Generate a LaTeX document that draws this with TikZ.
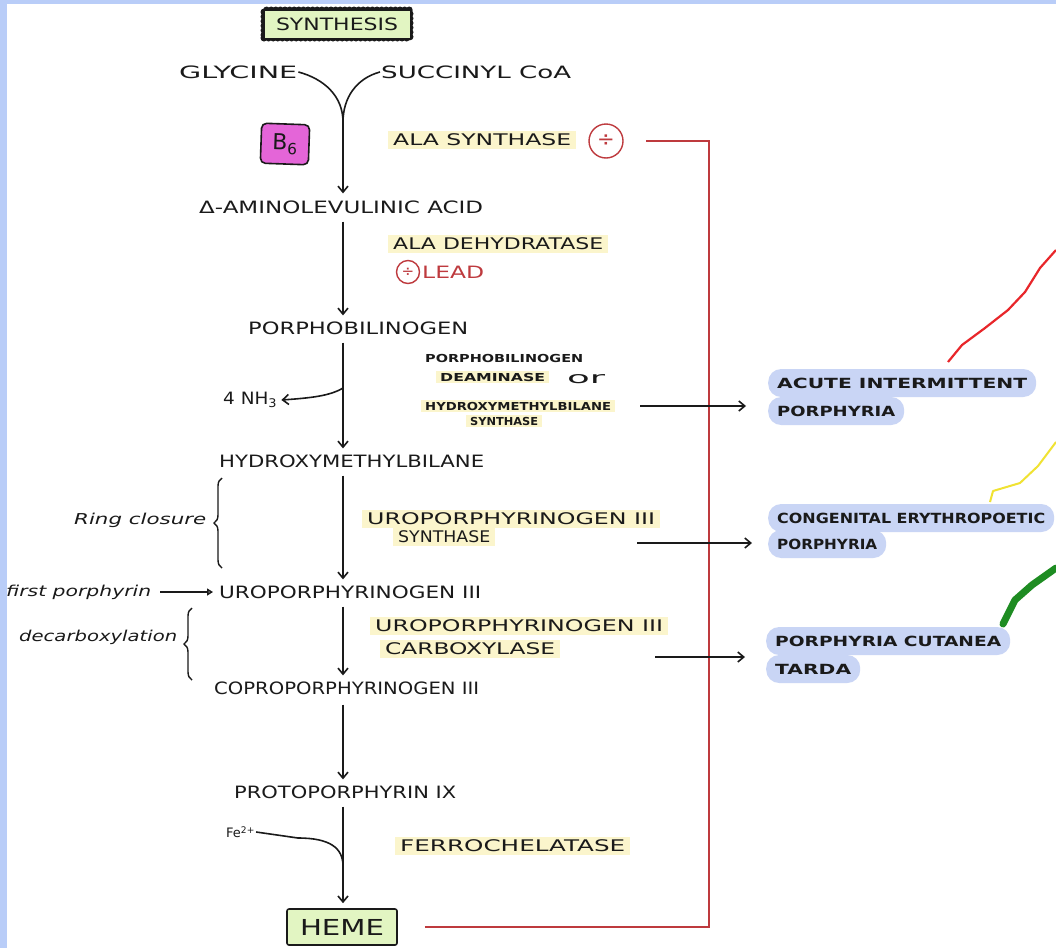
\documentclass[tikz,border=0pt]{standalone}
\usepackage{fontspec}
\usepackage{graphicx}
\setmainfont{DejaVu Sans}
\usetikzlibrary{arrows.meta,decorations.pathreplacing,calc}
\definecolor{band}{HTML}{B9CDF8}
\definecolor{synthg}{HTML}{E2F5C2}
\definecolor{hemeg}{HTML}{E2F5C2}
\definecolor{magb}{HTML}{E465D8}
\definecolor{hl}{HTML}{FBF5CC}
\definecolor{pill}{HTML}{C9D5F5}
\definecolor{redc}{HTML}{BE3A3E}
\definecolor{redw}{HTML}{E8262A}
\definecolor{yelw}{HTML}{F0E232}
\definecolor{grnw}{HTML}{1E8C22}
\definecolor{ink}{HTML}{1A1A1A}
\newcommand\hw[2]{\resizebox{#1pt}{\height}{#2}}
\tikzset{
  main/.style={anchor=west, inner sep=1pt, text=ink, font=\fontsize{17}{17}\selectfont},
  enz/.style={anchor=west, inner xsep=5pt, inner ysep=3pt, fill=hl, text=ink, font=\fontsize{16}{16}\selectfont},
  enzs/.style={anchor=west, inner xsep=4pt, inner ysep=2pt, text=ink, font=\fontsize{11}{11}\selectfont\bfseries},
  note/.style={anchor=west, inner sep=1pt, text=ink, font=\fontsize{15}{15}\selectfont\itshape},
  dis/.style={anchor=west, fill=pill, rounded corners=13pt, inner xsep=9pt, minimum height=28pt, text=ink, font=\fontsize{14}{14}\selectfont\bfseries},
  line/.style={line width=1.6pt, draw=ink},
  arr/.style={line, -{Straight Barb[length=6pt,width=10pt]}},
  redl/.style={line width=2.4pt, draw=redc},
  inh/.style={circle, draw=redc, line width=1.4pt, text=redc, inner sep=0pt},
  brace/.style={decorate, decoration={brace, amplitude=8pt}, line width=1.4pt, draw=ink},
  synthbox/.style={fill=synthg, draw=ink, line width=1pt, minimum width=146pt, minimum height=28pt,
    preaction={draw=ink, line width=7pt, dash pattern=on 0pt off 4.6pt, line cap=round},
    text=ink, font=\fontsize{17}{17}\selectfont},
  hemebox/.style={fill=hemeg, draw=ink, line width=1.6pt, rounded corners=2pt, minimum width=110pt, minimum height=36pt, text=ink, font=\fontsize{22}{22}\selectfont},
  b6box/.style={fill=magb, draw=ink, line width=1.6pt, rounded corners=5pt, minimum width=48pt, minimum height=40pt, text=ink, font=\fontsize{22}{22}\selectfont},
}
\begin{document}
\begin{tikzpicture}[x=1pt,y=-1pt]
\useasboundingbox (0,0) rectangle (1056,948);
\fill[band] (0,0) rectangle (1056,948);
\fill[white] (7,4) rectangle (1056,948);
\coordinate (sp) at (343,0);

% header
\node[synthbox] (syn) at (337,24) {\hw{122}{SYNTHESIS}};
\node[main] (gly) at (178,72) {\hw{118}{GLYCINE}};
\node[main] (suc) at (380,72) {\hw{190}{SUCCINYL CoA}};
\coordinate (merge) at (343,122);
\draw[line] (gly.east) to[out=-15,in=90] (merge);
\draw[line] (suc.west) to[out=195,in=90] (merge);
\node[b6box, rotate=-2] (b6) at (285,144) {B\textsubscript{6}};

% main chain
\node[main] (ala) at (198,207) {\hw{284}{Δ-AMINOLEVULINIC ACID}};
\node[main] (pbg) at (247,328) {\hw{220}{PORPHOBILINOGEN}};
\node[main] (hmb) at (218,461) {\hw{265}{HYDROXYMETHYLBILANE}};
\node[main] (uro) at (218,592) {\hw{262}{UROPORPHYRINOGEN III}};
\node[main] (copro) at (213,688) {\hw{265}{COPROPORPHYRINOGEN III}};
\node[main] (proto) at (233,792) {\hw{222}{PROTOPORPHYRIN IX}};
\node[hemebox] (heme) at (342,927) {\hw{84}{HEME}};

\draw[arr, shorten >=6pt] (merge) -- (ala.north -| sp);
\draw[arr, shorten <=7pt, shorten >=5pt] (ala.south -| sp) -- (pbg.north -| sp);
\draw[arr, shorten <=7pt, shorten >=5pt] (pbg.south -| sp) -- (hmb.north -| sp);
\draw[arr, shorten <=7pt, shorten >=5pt] (hmb.south -| sp) -- (uro.north -| sp);
\draw[arr, shorten <=7pt, shorten >=5pt] (uro.south -| sp) -- (copro.north -| sp);
\draw[arr, shorten <=9pt, shorten >=5pt] (copro.south -| sp) -- (proto.north -| sp);
\draw[arr, shorten <=7pt, shorten >=5pt] (proto.south -| sp) -- (heme.north -| sp);

% side products
\node[main] (nh3) at (222,400) {\hw{54}{4 NH\textsubscript{3}}};
\coordinate (nhj) at (343,388);
\draw[arr] (nhj) .. controls (330,396) and (310,398) .. ([xshift=3pt]nh3.east);
\node[main] (fe) at (225,832) {\fontsize{13}{13}\selectfont Fe\textsuperscript{2+}};
\coordinate (fej) at (343,866);
\draw[line] (fe.east) -- (298,838) .. controls (330,838) and (343,848) .. (fej);

% notes
\node[note] (ring) at (73,520) {\hw{132}{Ring closure}};
\draw[brace] (222,568) -- (222,478);
\node[note] (fp) at (5,592) {\hw{145}{first porphyrin}};
\draw[line, -{Triangle[open,length=6pt,width=7pt]}, shorten <=8pt, shorten >=5pt] (fp.east) -- (uro.west);
\node[note] (dec) at (18,637) {\hw{158}{decarboxylation}};
\draw[brace] (192,680) -- (192,608);

% enzymes
\node[enz] (e1) at (388,140) {\hw{178}{ALA SYNTHASE}};
\node[inh, minimum size=34pt, font=\fontsize{21}{21}\selectfont] (inh1) at (606,141) {÷};
\node[enz] (e2) at (388,244) {\hw{210}{ALA DEHYDRATASE}};
\node[inh, minimum size=23pt, font=\fontsize{15}{15}\selectfont] (inh2) at (408,272) {÷};
\node[main, text=redc] (lead) at (421,272) {\hw{62}{LEAD}};

\node[enzs] (e3a) at (421,358) {\hw{158}{PORPHOBILINOGEN}};
\node[enzs, fill=hl] (e3b) at (436,377) {\hw{105}{DEAMINASE}};
\node[main, font=\fontsize{16}{16}\selectfont] (or) at (566,379) {\hw{38}{or}};
\node[enzs, fill=hl] (e3c) at (421,406) {\hw{186}{HYDROXYMETHYLBILANE}};
\node[enzs, fill=hl] (e3d) at (466,421) {\hw{68}{SYNTHASE}};

\node[enz] (e4a) at (362,519) {\hw{288}{UROPORPHYRINOGEN III}};
\node[enz] (e4b) at (393,537) {\hw{92}{SYNTHASE}};
\node[enz] (e5a) at (370,626) {\hw{288}{UROPORPHYRINOGEN III}};
\node[enz] (e5b) at (380,649) {\hw{170}{CARBOXYLASE}};
\node[enz] (e6) at (395,846) {\hw{225}{FERROCHELATASE}};

% feedback inhibition
\coordinate (fb) at (709,0);
\draw[redl] ([xshift=27pt]heme.east) -| (fb |- inh1) -- ([xshift=22pt]inh1.east);

% diseases
\node[dis] (aip1) at (768,383) {\hw{250}{ACUTE INTERMITTENT}};
\node[dis] (aip2) at (768,411) {\hw{118}{PORPHYRIA}};
\node[dis] (cep1) at (768,518) {\hw{268}{CONGENITAL ERYTHROPOETIC}};
\node[dis] (cep2) at (768,544) {\hw{100}{PORPHYRIA}};
\node[dis] (pct1) at (766,641) {\hw{226}{PORPHYRIA CUTANEA}};
\node[dis] (pct2) at (766,669) {\hw{76}{TARDA}};

\coordinate (a1) at (640,406);
\coordinate (a2) at (637,543);
\coordinate (a3) at (655,657);
\draw[arr, shorten >=22pt] (a1) -- (a1 -| aip2.west);
\draw[arr, shorten >=16pt] (a2) -- (a2 -| cep2.west);
\draw[arr, shorten >=21pt] (a3) -- (a3 -| pct2.west);

% colour leads
\draw[redw, line width=2.2pt, line join=round] (948,362) -- (962,345) -- (985,328) -- (1008,310) -- (1025,292) -- (1040,268) -- (1056,250);
\draw[yelw, line width=2pt, line join=round] (990,502) -- (993,491) -- (1020,483) -- (1038,466) -- (1056,442);
\draw[grnw, line width=7pt, line cap=round, line join=round] (1003,624) -- (1015,600) -- (1032,585) -- (1056,568);
\end{tikzpicture}
\end{document}
